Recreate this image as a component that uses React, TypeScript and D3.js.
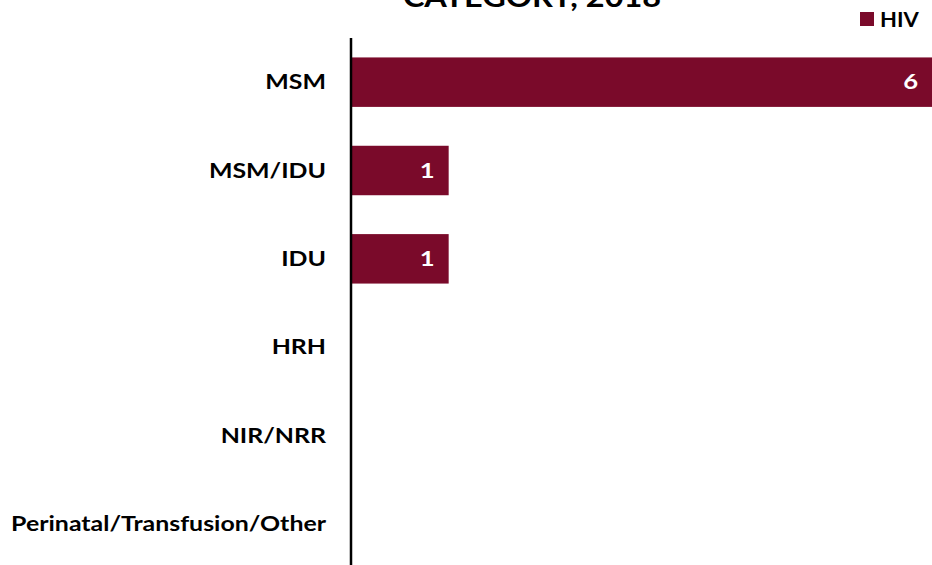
import React from 'react';
import * as d3 from 'd3';

const categories = ['MSM', 'MSM/IDU', 'IDU', 'HRH', 'NIR/NRR', 'Perinatal/Transfusion/Other'];
const hivValues = [6, 1, 1, 0, 0, 0];
const seriesName = 'HIV';
const titleLines = ['CATEGORY, 2018'];

const W = 932;
const H = 565;
const barColor = '#7a0a2a';
const font = 'Lato, Carlito, Calibri, sans-serif';

// Calibri-looking text, widened a bit to match the reference
function Label(props: { x: number; y: number; size: number; sx: number; anchor?: string; fill?: string; children: any }) {
  return (
    <text transform={`translate(${props.x},${props.y}) scale(${props.sx},1)`} textAnchor={props.anchor || 'start'}
      fontFamily={font} fontWeight="bold" fontSize={props.size} fill={props.fill || '#000'}>{props.children}</text>
  );
}

export default function App() {
  const margin = { top: 38, right: 0, bottom: 0, left: 352 };

  // D3 mathy bits
  const x = d3.scaleLinear().domain([0, 6]).range([margin.left, W - margin.right]);
  const y = d3.scaleBand<string>()
    .domain(categories)
    .range([margin.top, 568])
    .paddingInner(0.44)
    .paddingOuter(0.22);

  const bars = categories.map((cat, i) => {
    const v = hivValues[i];
    if (!v) return null;
    const by = y(cat) as number;
    return (
      <g key={cat}>
        <rect x={x(0)} y={by} width={x(v) - x(0)} height={y.bandwidth()} fill={barColor} />
        <Label x={x(v) - 14} y={by + y.bandwidth() / 2 + 7} anchor="end" fill="#fff" size={20.5} sx={1.25}>{v}</Label>
      </g>
    );
  });

  const labels = categories.map((cat) => (
    <Label key={cat} x={326} y={(y(cat) as number) + y.bandwidth() / 2 + 7} anchor="end" size={20} sx={1.245}>{cat}</Label>
  ));

  return (
    <svg width={W} height={H} style={{ position: 'absolute', left: 0, top: 0, background: '#fff' }}>
      {titleLines.map((t, i) => (
        <Label key={i} x={532} y={7 + i * 30} anchor="middle" size={28} sx={1.16}>{t}</Label>
      ))}
      <rect x={860} y={12} width={14} height={14} fill={barColor} />
      <Label x={880} y={27} size={20} sx={1.1}>{seriesName}</Label>
      {bars}
      <line x1={351} x2={351} y1={margin.top} y2={H} stroke="#000" strokeWidth={2.5} />
      {labels}
    </svg>
  );
}
